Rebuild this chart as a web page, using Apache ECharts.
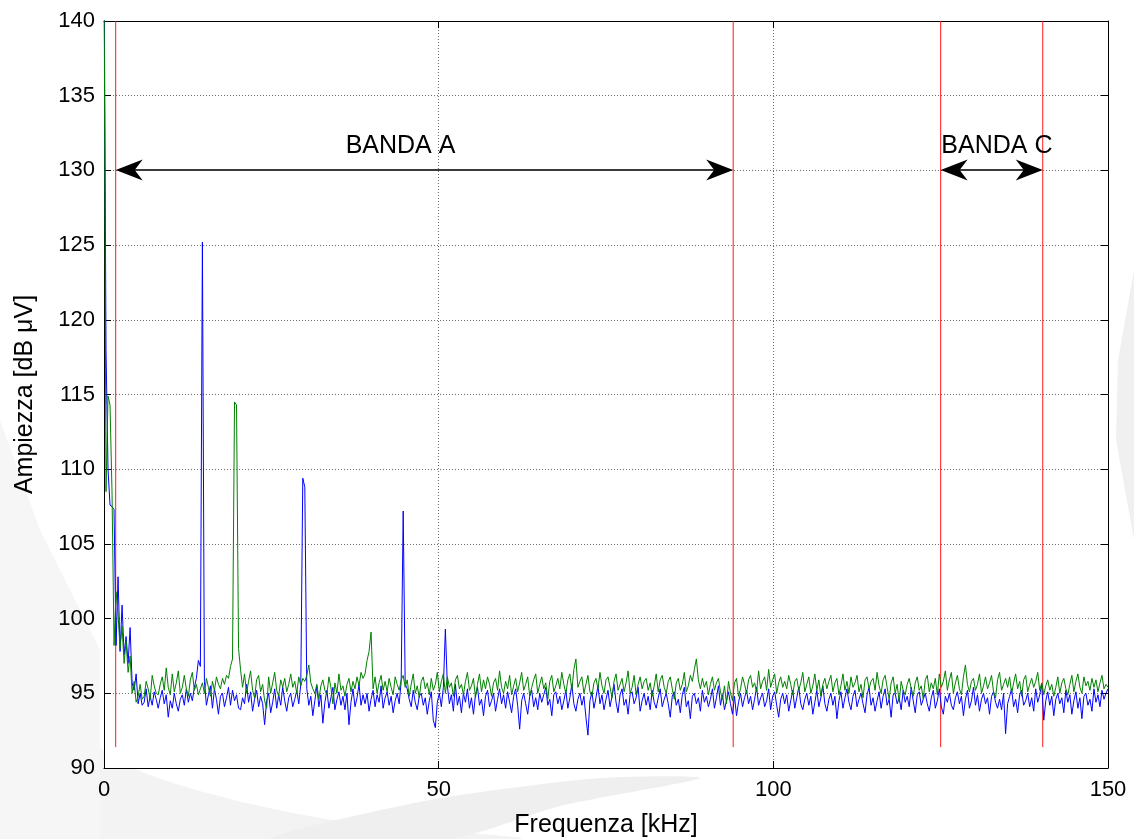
<!DOCTYPE html>
<html>
<head>
<meta charset="utf-8">
<script src="https://cdn.jsdelivr.net/npm/echarts@6/dist/echarts.min.js"></script>
<style>
html,body{margin:0;padding:0;background:#fff;}
#chart{width:1134px;height:839px;}
</style>
</head>
<body>
<div id="chart"></div>
<script>
// ---- data ----
const freqStart = 0;      // kHz
const freqStep = 0.3;     // kHz per sample
const blueAmp = [
145, 118, 110, 107.6, 107.5, 107.3, 98.2, 102.8, 97.8, 100.9,
97.6, 98.8, 97.0, 99.4, 95.7, 95.2, 96.3, 94.3, 95.0, 94.2,
94.4, 95.3, 94.1, 94.8, 94.2, 95.1, 94.6, 94.0, 94.7, 95.2,
94.3, 94.9, 93.4, 94.5, 94.0, 95.0, 94.3, 93.8, 94.6, 94.9,
94.2, 95.3, 94.4, 95.0, 94.5, 95.4, 96.0, 97.2, 96.8, 125.2,
95.8, 94.2, 94.9, 95.5, 94.0, 95.3, 94.6, 93.6, 94.8, 95.0,
94.1, 94.7, 95.4, 94.2, 95.2, 94.5, 94.9, 94.0, 93.9, 94.7,
94.3, 95.6, 94.4, 95.1, 93.8, 94.6, 95.2, 94.1, 94.8, 94.3,
92.9, 94.5, 95.0, 93.7, 94.4, 95.3, 94.0, 94.9, 94.2, 95.4,
94.5, 93.8, 94.7, 95.0, 94.1, 94.6, 95.2, 94.3, 95.6, 109.4,
108.8, 95.3, 94.2, 94.8, 93.5, 94.5, 95.5, 94.1, 94.9, 93.0,
94.4, 95.2, 94.0, 94.7, 95.4, 93.9, 94.6, 95.1, 94.2, 94.8,
93.9, 95.0, 92.9, 94.4, 95.3, 94.1, 94.7, 95.6, 94.2, 94.9,
94.3, 95.0, 93.8, 94.6, 95.2, 94.1, 94.9, 94.4, 95.5, 94.0,
94.7, 95.1, 94.2, 94.8, 93.7, 94.5, 95.0, 94.3, 95.8, 107.2,
95.6, 95.3, 94.6, 94.1, 95.2, 94.4, 93.9, 94.8, 95.0, 94.2,
94.7, 93.6, 94.5, 95.1, 93.2, 92.7, 94.4, 95.0, 94.1, 95.4,
99.3, 95.5, 94.3, 94.9, 93.8, 95.6, 94.2, 94.8, 93.7, 95.0,
94.4, 95.3, 94.0, 94.7, 93.6, 94.9, 95.4, 94.2, 94.6, 93.5,
94.8, 95.2, 94.1, 94.5, 95.0, 93.8, 94.6, 95.3, 94.3, 94.9,
94.0, 95.1, 94.4, 93.7, 94.8, 95.3, 94.2, 92.6, 94.5, 95.0,
94.3, 93.6, 94.8, 95.2, 94.1, 94.7, 93.9, 95.0, 94.4, 94.9,
95.4, 94.2, 94.6, 93.5, 94.9, 95.1, 94.3, 94.8, 93.9, 94.5,
95.2, 94.0, 94.7, 95.6, 94.3, 93.8, 94.6, 95.0, 94.2, 94.8,
93.4, 92.2, 94.5, 95.1, 94.0, 94.7, 95.5, 94.3, 94.9, 93.9,
94.6, 95.2, 94.1, 94.8, 95.6, 94.4, 93.7, 94.9, 95.3, 94.2,
94.6, 93.6, 94.9, 95.1, 94.3, 94.7, 95.4, 93.8, 94.5, 95.0,
94.2, 94.8, 93.9, 95.2, 94.4, 94.0, 94.7, 95.3, 94.1, 94.6,
95.0, 94.3, 93.4, 94.8, 95.1, 94.2, 94.6, 93.7, 94.9, 95.4,
94.1, 94.5, 93.3, 94.8, 95.0, 94.3, 94.7, 93.8, 95.2, 94.4,
94.8, 94.1, 94.6, 95.3, 94.0, 94.7, 95.5, 94.2, 94.9, 93.9,
94.5, 95.1, 94.3, 93.6, 94.8, 93.5, 94.4, 95.0, 94.1, 94.7,
95.2, 94.3, 94.8, 93.9, 94.6, 95.4, 94.2, 94.7, 95.0, 94.1,
94.5, 95.3, 93.9, 94.8, 95.1, 94.2, 93.4, 94.6, 95.0, 94.3,
94.9, 93.8, 94.5, 95.2, 94.0, 94.7, 95.4, 94.3, 93.9, 94.6,
95.0, 94.2, 94.8, 93.6, 94.4, 95.2, 94.1, 94.7, 95.5, 94.3,
93.8, 94.6, 95.0, 94.2, 94.8, 93.3, 94.5, 95.1, 94.0, 94.7,
95.3, 94.4, 93.9, 94.8, 95.2, 94.1, 94.6, 95.0, 94.3, 93.7,
94.9, 95.4, 94.2, 94.7, 93.8, 94.5, 95.1, 94.0, 94.8, 95.3,
94.2, 94.6, 93.4, 94.9, 95.0, 94.3, 94.7, 93.9, 95.2, 94.4,
94.8, 94.1, 95.4, 94.5, 93.7, 94.9, 95.1, 94.2, 94.6, 95.0,
94.3, 93.8, 94.7, 95.2, 94.0, 94.5, 95.3, 94.1, 93.6, 94.8,
94.4, 95.0, 94.2, 93.9, 94.7, 95.1, 94.3, 94.8, 93.5, 94.6,
95.2, 94.0, 94.5, 95.4, 94.2, 94.9, 93.8, 94.6, 95.0, 94.3,
94.7, 93.6, 94.8, 95.1, 94.4, 94.0, 94.6, 93.9, 95.0, 92.3,
94.3, 94.8, 95.3, 94.1, 94.6, 93.7, 94.9, 95.2, 94.2, 94.5,
95.0, 94.1, 94.7, 93.8, 95.3, 94.4, 94.9, 95.6, 93.2, 94.5,
95.1, 94.2, 94.8, 93.5, 94.6, 95.0, 94.3, 94.7, 93.7, 95.2,
94.4, 94.9, 93.6, 94.5, 95.1, 94.0, 94.7, 93.3, 94.8, 95.0,
94.2, 94.6, 93.8, 95.3, 94.4, 94.9, 94.1, 95.2, 94.6, 95.0,
95.3
];
const greenAmp = [
145, 108.5, 114.9, 114.3, 108.4, 98.2, 101.8, 100.3, 98.0, 99.5,
97.0, 98.5, 96.4, 97.5, 95.0, 95.8, 94.4, 94.8, 95.6, 94.6,
94.8, 95.8, 95.3, 94.6, 96.2, 95.5, 95.0, 94.9, 95.6, 96.1,
95.2, 96.7, 95.4, 94.9, 96.3, 95.1, 95.7, 96.5, 95.0, 95.4,
96.2, 95.3, 94.8, 95.9, 96.4, 95.2, 95.6, 94.9, 95.3, 95.7,
95.0, 96.0, 95.4, 94.8, 95.8, 95.2, 96.1, 95.6, 95.3, 96.0,
95.6, 96.2, 96.0, 96.8, 97.3, 114.5, 114.3, 98.0, 96.6, 95.4,
96.3, 95.0, 95.8, 96.5, 95.2, 94.7, 95.9, 96.2, 95.1, 95.6,
94.5, 94.0, 96.1, 95.0, 95.7, 96.4, 95.2, 94.8, 95.9, 95.4,
96.0, 95.1, 95.6, 96.3, 95.4, 95.8, 95.0, 96.1, 95.5, 96.0,
95.8, 96.2, 96.9, 95.7, 95.3, 95.0, 95.6, 94.6, 95.5, 95.9,
95.2, 94.9, 96.1, 95.4, 94.3, 95.7, 95.0, 96.3, 95.2, 95.5,
94.8, 95.6, 96.0, 95.1, 95.8, 95.3, 96.1, 95.5, 96.4, 96.0,
96.3, 97.2, 97.8, 99.1, 95.3, 96.1, 95.0, 95.7, 96.2, 95.2,
95.8, 95.1, 96.0, 95.4, 94.9, 96.1, 95.6, 95.2, 95.9, 96.2,
95.4, 95.9, 94.8, 95.6, 96.3, 95.0, 95.5, 94.7, 95.8, 96.1,
95.3, 95.7, 94.9, 96.0, 95.2, 95.6, 96.4, 95.1, 95.8, 96.3,
95.0, 96.1, 95.4, 95.7, 94.8, 95.9, 96.2, 95.3, 95.6, 94.9,
95.8, 96.4, 95.2, 95.5, 96.0, 94.7, 95.6, 96.3, 95.1, 95.9,
95.3, 96.1, 95.6, 94.8, 95.7, 96.0, 95.2, 96.5, 95.4, 95.0,
95.8, 95.3, 96.2, 94.9, 95.5, 96.0, 95.1, 95.7, 96.4, 95.2,
95.6, 96.1, 94.8, 95.4, 95.9, 96.3, 95.0, 95.6, 96.1, 95.3,
95.7, 94.6, 95.8, 96.2, 95.1, 95.5, 96.0, 95.3, 96.4, 95.6,
95.0, 95.9, 96.3, 95.2, 96.6, 97.3, 95.4, 95.8, 96.1, 95.0,
95.6, 96.2, 95.1, 94.8, 95.7, 96.0, 95.3, 96.4, 95.5, 95.0,
95.9, 96.1, 95.4, 94.7, 95.8, 96.3, 95.2, 95.6, 96.0, 95.1,
95.7, 96.5, 95.0, 95.4, 96.2, 94.9, 95.6, 96.1, 95.3, 95.8,
96.0, 95.2, 95.7, 94.8, 95.5, 96.3, 95.1, 95.9, 96.2, 95.4,
95.0, 95.8, 96.1, 95.3, 94.6, 95.7, 96.0, 95.2, 95.6, 96.4,
95.1, 95.5, 96.2, 95.8, 96.6, 97.3, 95.9, 95.3, 96.0, 95.4,
95.8, 94.9, 95.6, 96.1, 95.2, 95.7, 96.0, 95.1, 94.6, 95.5,
94.3, 95.8, 95.0, 94.5, 95.7, 96.0, 94.8, 95.3, 96.1, 95.6,
95.0, 95.9, 96.2, 95.4, 95.7, 95.1, 96.5, 95.3, 95.8, 96.1,
95.2, 96.6, 95.4, 95.9, 96.3, 95.0, 95.7, 96.1, 95.4, 95.8,
95.3, 96.2, 95.6, 94.9, 95.8, 96.0, 95.2, 95.7, 96.4, 95.1,
95.6, 96.1, 95.0, 95.5, 96.3, 95.2, 95.9, 94.8, 95.6, 96.0,
95.3, 95.8, 96.2, 95.1, 95.7, 96.0, 94.9, 95.5, 96.3, 95.2,
95.8, 95.0, 96.1, 95.4, 95.7, 96.2, 95.1, 95.6, 94.7, 95.9,
96.1, 95.3, 95.8, 96.0, 95.2, 96.4, 95.5, 95.0, 95.9, 96.2,
95.4, 94.6, 95.7, 96.1, 95.0, 95.6, 94.4, 95.8, 95.2, 94.9,
95.6, 96.0, 95.3, 94.8, 95.7, 96.1, 95.2, 95.5, 94.6, 95.9,
96.2, 95.1, 95.7, 95.3, 96.0, 94.9, 96.3, 95.4, 95.8, 96.5,
95.2, 95.9, 96.4, 95.0, 95.7, 96.2, 95.3, 94.9, 96.1, 96.9,
95.6, 95.1, 95.8, 96.0, 95.2, 95.6, 96.3, 95.0, 95.5, 96.1,
95.3, 95.7, 96.2, 95.1, 94.7, 95.9, 96.4, 95.2, 95.6, 96.0,
95.4, 96.1, 95.0, 95.7, 96.3, 95.3, 95.8, 94.8, 95.9, 96.2,
95.1, 95.6, 96.0, 95.4, 95.8, 96.4, 95.2, 95.7, 94.9, 95.5,
95.9, 95.2, 95.6, 94.8, 95.4, 96.1, 95.0, 95.7, 96.0, 95.3,
94.9, 95.6, 96.2, 95.1, 95.8, 96.3, 95.4, 95.0, 96.1, 95.5,
95.8, 95.2, 96.0, 95.4, 95.9, 95.1, 95.7, 96.2, 95.3, 95.6,
95.4
];
const xTickValues = [0, 50, 100, 150];
const yTickValues = [90, 95, 100, 105, 110, 115, 120, 125, 130, 135, 140];
const bandEdges = [1.75, 94, 125, 140.25];          // kHz (red lines)
const bandEdgeSpan = [91.4, 140];                   // dB µV extent of red lines
const bandArrows = [[1.75, 94, 130], [125, 140.25, 130]];   // from, to, level
const bandLabels = [['BANDA A', 44.3, 131.6], ['BANDA C', 133.4, 131.6]];

// ---- build series data ----
const toPairs = arr => arr.map((v, i) => [+(freqStart + i * freqStep).toFixed(2), v]);
const blueData = toPairs(blueAmp);
const greenData = toPairs(greenAmp);

const FONT = '"Liberation Sans", Arial, Helvetica, sans-serif';
const chart = echarts.init(document.getElementById('chart'), null, {renderer: 'canvas'});

const axisLineStyle = {color: '#000', width: 1};
const tickStyle = {show: true, inside: true, length: 7, lineStyle: {color: '#000', width: 1}};
const gridLine = {show: true, lineStyle: {color: '#6e6e6e', type: [1, 2], width: 1}};

const edgeSeries = bandEdges.map((x, k) => ({
  type: 'line', name: 'edge' + k, xAxisIndex: 0, yAxisIndex: 0, z: 3,
  data: [[x, bandEdgeSpan[0]], [x, bandEdgeSpan[1]]],
  showSymbol: false, symbol: 'none', silent: true,
  lineStyle: {color: '#ff1a1a', width: 1}, itemStyle: {color: '#ff1a1a'}
}));

const option = {
  backgroundColor: '#ffffff',
  animation: false,
  graphic: [
    {type: 'polygon', z: -10, silent: true,
     shape: {points: [[0, 700], [150, 775], [320, 818], [520, 839], [0, 839]], smooth: 0.3},
     style: {fill: '#f3f3f3'}},
    {type: 'polygon', z: -10, silent: true,
     shape: {points: [[270, 839], [430, 800], [600, 778], [700, 778], [560, 806], [450, 839]], smooth: 0.25},
     style: {fill: '#efefef'}},
    {type: 'polygon', z: -10, silent: true,
     shape: {points: [[1134, 270], [1118, 360], [1116, 440], [1134, 540]]},
     style: {fill: '#f0f0f0'}},
    {type: 'polygon', z: -10, silent: true,
     shape: {points: [[0, 420], [40, 530], [100, 650], [100, 839], [0, 839]]},
     style: {fill: '#f6f6f6'}}
  ],
  grid: {left: 104, right: 26, top: 21, bottom: 71, show: true, backgroundColor: '#fff', borderWidth: 0,
         containLabel: false, outerBoundsMode: 'none'},
  xAxis: [
    {type: 'value', min: 0, max: 150, interval: 50, position: 'bottom',
     name: 'Frequenza [kHz]', nameLocation: 'middle', nameGap: 45,
     nameTextStyle: {fontFamily: FONT, fontSize: 25, color: '#000'},
     axisLine: {show: true, onZero: false, lineStyle: axisLineStyle},
     axisTick: tickStyle,
     axisLabel: {fontFamily: FONT, fontSize: 22, color: '#000', margin: 11,
                 formatter: v => xTickValues.includes(v) ? String(v) : ''},
     splitLine: gridLine},
    {type: 'value', min: 0, max: 150, interval: 50, position: 'top',
     axisLine: {show: true, onZero: false, lineStyle: axisLineStyle},
     axisTick: tickStyle, axisLabel: {show: false}, splitLine: {show: false}}
  ],
  yAxis: [
    {type: 'value', min: 90, max: 140, interval: 5, position: 'left',
     name: 'Ampiezza [dB μV]', nameLocation: 'middle', nameGap: 66, nameRotate: 90,
     nameTextStyle: {fontFamily: FONT, fontSize: 25, color: '#000'},
     axisLine: {show: true, onZero: false, lineStyle: axisLineStyle},
     axisTick: tickStyle,
     axisLabel: {fontFamily: FONT, fontSize: 22, color: '#000', margin: 9,
                 formatter: v => yTickValues.includes(v) ? String(v) : ''},
     splitLine: gridLine},
    {type: 'value', min: 90, max: 140, interval: 5, position: 'right',
     axisLine: {show: true, onZero: false, lineStyle: axisLineStyle},
     axisTick: tickStyle, axisLabel: {show: false}, splitLine: {show: false}}
  ],
  series: edgeSeries.concat([
    {
      type: 'line', name: 'blue', data: blueData, xAxisIndex: 0, yAxisIndex: 0,
      showSymbol: false, symbol: 'none', z: 4, clip: true, silent: true,
      lineStyle: {color: '#0000ff', width: 1}, itemStyle: {color: '#0000ff'}
    },
    {
      type: 'line', name: 'green', data: greenData, xAxisIndex: 0, yAxisIndex: 0,
      showSymbol: false, symbol: 'none', z: 5, clip: true, silent: true,
      lineStyle: {color: '#008000', width: 1}, itemStyle: {color: '#008000'}
    },
    {
      type: 'custom', name: 'arrows', xAxisIndex: 0, yAxisIndex: 0, z: 6, silent: true,
      data: bandArrows,
      encode: {x: [0, 1], y: 2},
      renderItem: (params, api) => {
        const a = api.coord([api.value(0), api.value(2)]);
        const b = api.coord([api.value(1), api.value(2)]);
        const y = Math.round(a[1]);
        const L = 27, W = 10.5, N = 19;
        return {type: 'group', children: [
          {type: 'line', shape: {x1: a[0] + 5, y1: y, x2: b[0] - 5, y2: y},
           style: {stroke: '#3a3a3a', lineWidth: 2}},
          {type: 'polygon', shape: {points: [[a[0], y], [a[0] + L, y - W], [a[0] + N, y], [a[0] + L, y + W]]},
           style: {fill: '#000'}},
          {type: 'polygon', shape: {points: [[b[0], y], [b[0] - L, y - W], [b[0] - N, y], [b[0] - L, y + W]]},
           style: {fill: '#000'}}
        ]};
      }
    },
    {
      type: 'custom', name: 'labels', xAxisIndex: 0, yAxisIndex: 0, z: 7, silent: true,
      data: bandLabels.map(l => [l[1], l[2]]),
      encode: {x: 0, y: 1},
      renderItem: (params, api) => {
        const p = api.coord([api.value(0), api.value(1)]);
        return {type: 'text', x: p[0], y: p[1],
                style: {text: bandLabels[params.dataIndex][0], fill: '#000',
                        font: '25px ' + FONT, align: 'center', verticalAlign: 'middle'}};
      }
    }
  ])
};
chart.setOption(option);
</script>
</body>
</html>
